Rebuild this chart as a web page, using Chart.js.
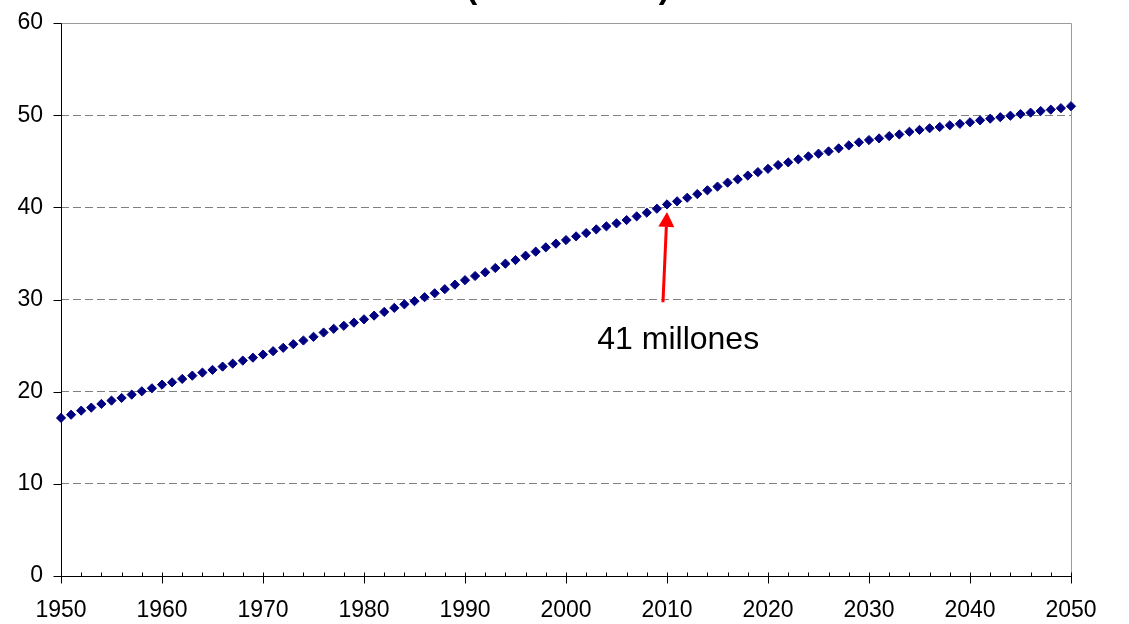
<!DOCTYPE html>
<html>
<head>
<meta charset="utf-8">
<script src="https://cdn.jsdelivr.net/npm/chart.js@4/dist/chart.umd.min.js"></script>
<style>
  body { margin: 0; background: #fff; }
  canvas { display: block; }
</style>
</head>
<body>
<canvas id="chart" width="1129" height="624"></canvas>
<script>
// population in millions, one value per year
const years = [
  1950, 1951, 1952, 1953, 1954, 1955, 1956, 1957, 1958, 1959,
  1960, 1961, 1962, 1963, 1964, 1965, 1966, 1967, 1968, 1969,
  1970, 1971, 1972, 1973, 1974, 1975, 1976, 1977, 1978, 1979,
  1980, 1981, 1982, 1983, 1984, 1985, 1986, 1987, 1988, 1989,
  1990, 1991, 1992, 1993, 1994, 1995, 1996, 1997, 1998, 1999,
  2000, 2001, 2002, 2003, 2004, 2005, 2006, 2007, 2008, 2009,
  2010, 2011, 2012, 2013, 2014, 2015, 2016, 2017, 2018, 2019,
  2020, 2021, 2022, 2023, 2024, 2025, 2026, 2027, 2028, 2029,
  2030, 2031, 2032, 2033, 2034, 2035, 2036, 2037, 2038, 2039,
  2040, 2041, 2042, 2043, 2044, 2045, 2046, 2047, 2048, 2049,
  2050
]
const population = [
  17.15, 17.50, 17.94, 18.27, 18.67, 19.03, 19.32, 19.68, 20.04, 20.37,
  20.76, 21.01, 21.38, 21.74, 22.07, 22.36, 22.72, 23.04, 23.37, 23.69,
  24.03, 24.39, 24.76, 25.15, 25.55, 25.95, 26.42, 26.82, 27.15, 27.49,
  27.85, 28.25, 28.65, 29.09, 29.48, 29.82, 30.25, 30.68, 31.12, 31.61,
  32.10, 32.55, 32.95, 33.42, 33.89, 34.28, 34.75, 35.19, 35.66, 36.06,
  36.45, 36.85, 37.21, 37.61, 37.94, 38.26, 38.62, 39.02, 39.42, 39.85,
  40.32, 40.65, 41.04, 41.44, 41.85, 42.25, 42.68, 43.04, 43.45, 43.82,
  44.18, 44.59, 44.88, 45.21, 45.53, 45.82, 46.07, 46.40, 46.72, 47.05,
  47.30, 47.48, 47.73, 47.91, 48.20, 48.40, 48.58, 48.72, 48.90, 49.06,
  49.23, 49.44, 49.62, 49.78, 49.94, 50.12, 50.27, 50.45, 50.60, 50.76,
  50.97
]

const xMin = 1950, xMax = 2050, xStep = 10, xMinorStep = 2
const yMin = 0, yMax = 60, yStep = 10

const titleText = "(en millones)"
const noteText = "41 millones"
const arrowFrom = [2009.6, 29.7]
const arrowTo = [2010.0, 39.5]
const notePos = [2003.1, 24.6]

const fontFamily = "'Liberation Sans', Arial, sans-serif"

const points = years.map((y, i) => ({ x: y, y: population[i] }))

const px = v => Math.round(v) + 0.5

// axis lines, tick marks and plot frame (drawn under the points)
const framePlugin = {
  id: 'frame',
  beforeDatasetsDraw(chart) {
    const { ctx, chartArea: a, scales } = chart
    const left = px(a.left), right = px(a.right), top = px(a.top), bottom = px(a.bottom)
    ctx.save()
    ctx.lineWidth = 1

    ctx.strokeStyle = '#9a9a9a'
    ctx.beginPath()
    ctx.moveTo(left, top); ctx.lineTo(right, top); ctx.lineTo(right, bottom)
    ctx.stroke()

    ctx.strokeStyle = '#000'
    ctx.beginPath()
    ctx.moveTo(left, top); ctx.lineTo(left, bottom); ctx.lineTo(right, bottom)
    for (let v = yMin; v <= yMax; v += yStep) {
      const y = px(scales.y.getPixelForValue(v))
      ctx.moveTo(left - 8, y); ctx.lineTo(left, y)
    }
    for (let v = xMin; v <= xMax; v += xMinorStep) {
      const x = px(scales.x.getPixelForValue(v))
      const major = (v - xMin) % xStep === 0
      ctx.moveTo(x, bottom - 4); ctx.lineTo(x, major ? bottom + 7 : bottom)
    }
    ctx.stroke()

    // title, mostly above the visible page
    ctx.fillStyle = '#000'
    ctx.font = `bold 33px ${fontFamily}`
    ctx.textAlign = 'center'
    ctx.textBaseline = 'alphabetic'
    ctx.fillText(titleText, (a.left + a.right) / 2 + 2, -2)
    ctx.restore()
  },
  afterDatasetsDraw(chart) {
    const { ctx, scales } = chart
    const x0 = scales.x.getPixelForValue(arrowFrom[0]), y0 = scales.y.getPixelForValue(arrowFrom[1])
    const x1 = scales.x.getPixelForValue(arrowTo[0]), y1 = scales.y.getPixelForValue(arrowTo[1])
    const ang = Math.atan2(y1 - y0, x1 - x0)
    const headLen = 15, headW = 8
    const bx = x1 - Math.cos(ang) * headLen, by = y1 - Math.sin(ang) * headLen
    ctx.save()
    ctx.strokeStyle = '#ff0000'
    ctx.fillStyle = '#ff0000'
    ctx.lineWidth = 3
    ctx.beginPath()
    ctx.moveTo(x0, y0); ctx.lineTo(bx, by)
    ctx.stroke()
    ctx.beginPath()
    ctx.moveTo(x1, y1)
    ctx.lineTo(bx + Math.sin(ang) * headW, by - Math.cos(ang) * headW)
    ctx.lineTo(bx - Math.sin(ang) * headW, by + Math.cos(ang) * headW)
    ctx.closePath()
    ctx.fill()

    ctx.fillStyle = '#000'
    ctx.font = `32px ${fontFamily}`
    ctx.textAlign = 'left'
    ctx.textBaseline = 'alphabetic'
    ctx.fillText(noteText, scales.x.getPixelForValue(notePos[0]), scales.y.getPixelForValue(notePos[1]))
    ctx.restore()
  }
}

new Chart(document.getElementById('chart'), {
  type: 'scatter',
  data: {
    datasets: [{
      label: 'Población',
      data: points,
      showLine: false,
      pointStyle: 'rectRot',
      pointRadius: 4.6,
      pointBorderWidth: 1,
      backgroundColor: '#000080',
      borderColor: '#000080',
      clip: false
    }]
  },
  options: {
    responsive: false,
    animation: false,
    layout: { padding: { top: 23, right: 58, left: 0, bottom: 0 } },
    plugins: {
      legend: { display: false },
      tooltip: { enabled: false }
    },
    scales: {
      x: {
        type: 'linear',
        min: xMin,
        max: xMax,
        grid: { display: false, drawTicks: false },
        border: { display: false },
        ticks: {
          stepSize: xStep,
          padding: 21,
          maxRotation: 0,
          color: '#000',
          font: { family: fontFamily, size: 23 },
          callback: v => String(v)
        },
        // keep the label room out of the plot-area layout
        afterFit: s => { s.height = 48; s.paddingLeft = 0; s.paddingRight = 0 }
      },
      y: {
        min: yMin,
        max: yMax,
        grid: { color: '#808080', lineWidth: 1, drawTicks: false },
        border: { display: false, dash: [8, 4] },
        ticks: {
          stepSize: yStep,
          padding: 18,
          color: '#000',
          font: { family: fontFamily, size: 23 }
        },
        afterFit: s => { s.width = 61; s.paddingTop = 0; s.paddingBottom = 0 }
      }
    }
  },
  plugins: [framePlugin]
})
</script>
</body>
</html>
